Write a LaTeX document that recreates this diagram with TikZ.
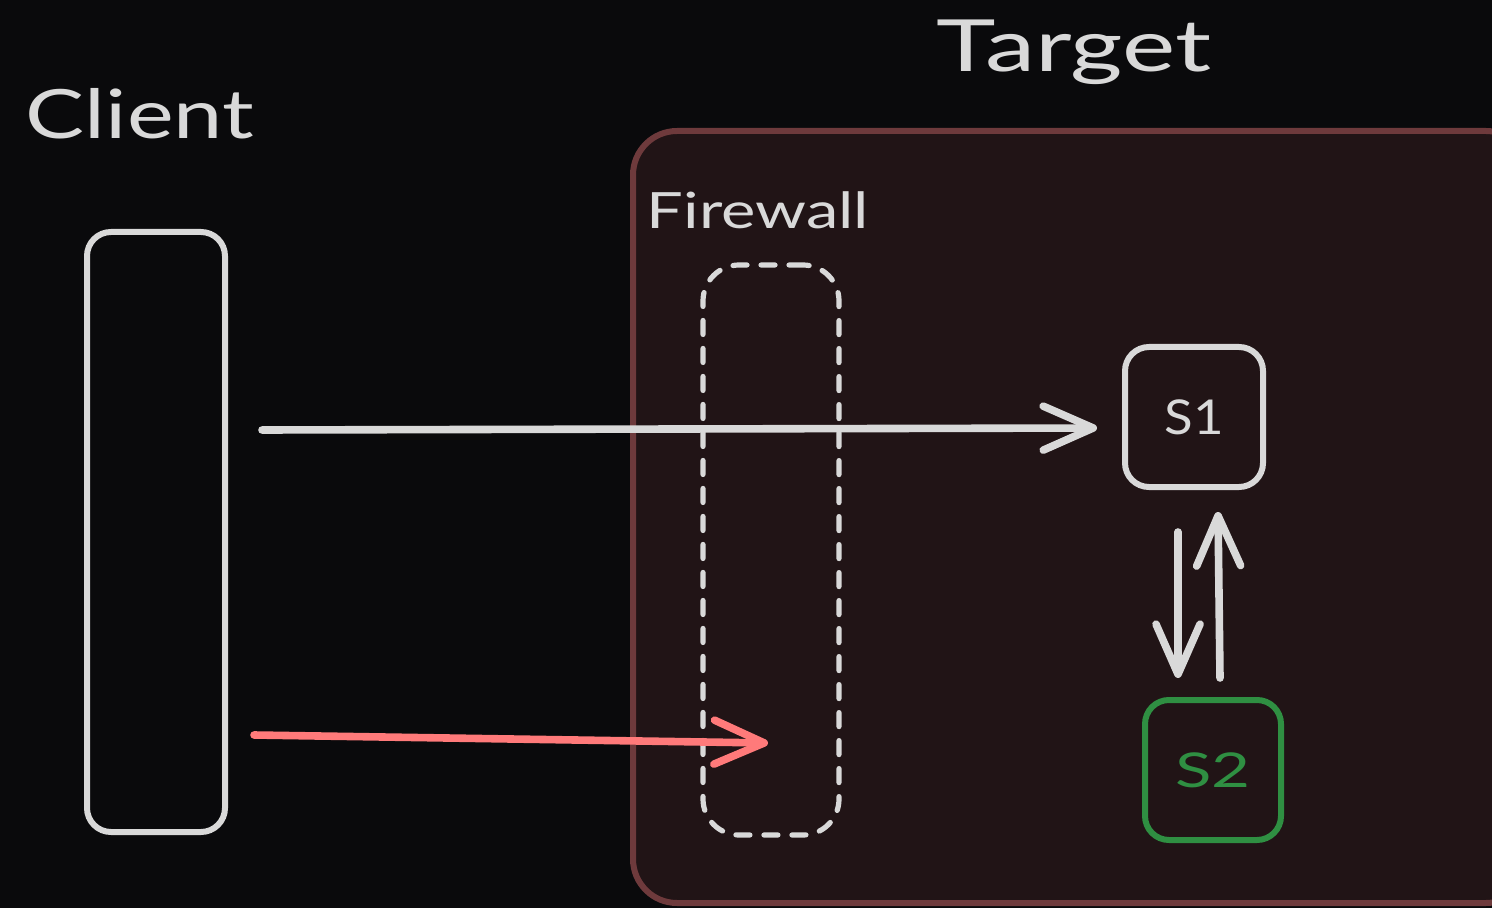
\documentclass[tikz,border=0pt]{standalone}
\usepackage{fontspec}
\usepackage{graphicx}
\setmainfont{Lato}
\usetikzlibrary{arrows.meta}
\definecolor{bg}{HTML}{0A0A0C}
\definecolor{zonefill}{HTML}{211416}
\definecolor{zoneline}{HTML}{6E3A3C}
\definecolor{ink}{HTML}{D9D9D9}
\definecolor{okgreen}{HTML}{2F8F42}
\definecolor{alert}{HTML}{FF7A7A}
% wide lettering, like a marker hand
\newcommand{\wide}[2][1.35]{\scalebox{#1}[1]{#2}}
\tikzset{
  sketchbox/.style={draw=ink, line width=3pt, rounded corners=12pt, fill=none},
  fwbox/.style={draw=ink, line width=2.6pt, rounded corners=18pt, dash pattern=on 7pt off 7pt, line cap=round},
  label/.style={text=ink, inner sep=0pt},
  flow/.style={draw=ink, line width=3.8pt, line cap=round,
    -{Straight Barb[length=25pt,width=22pt,round]}},
  badflow/.style={flow, draw=alert},
}
\begin{document}
\begin{tikzpicture}[x=0.5pt,y=-0.5pt]
  \fill[bg] (0,0) rectangle (1492,908);
  \useasboundingbox (0,0) rectangle (1492,908);

  % target network zone
  \draw[draw=zoneline, fill=zonefill, line width=3pt, rounded corners=22pt]
    (633,131) rectangle (1530,903);

  % titles
  \node[label, font=\fontsize{36}{40}\selectfont] (ttarget) at (1074,52) {\wide[1.4]{Target}};
  \node[label, font=\fontsize{34}{38}\selectfont] (tclient) at (140,114) {\wide[1.3]{Client}};
  \node[label, font=\fontsize{25}{28}\selectfont] (tfw) at (758,210) {\wide[1.3]{Firewall}};

  % client column
  \node[sketchbox, minimum width=69pt, minimum height=300pt] (client) at (156,532) {};

  % firewall column
  \node[fwbox, minimum width=68pt, minimum height=285pt] (fw) at (771,550) {};

  % servers
  \node[sketchbox, minimum width=69pt, minimum height=70pt, text=ink,
        font=\fontsize{24}{28}\selectfont] (s1) at (1194,417) {\wide[1.1]{S1}};
  \node[sketchbox, draw=okgreen, minimum width=68pt, minimum height=70pt, text=okgreen,
        font=\fontsize{24}{28}\selectfont] (s2) at (1213,770) {\wide[1.4]{S2}};

  % connection anchors
  \coordinate (c1) at (262,430);
  \coordinate (c2) at (254,735);
  \coordinate (blocked) at (768,743);
  \coordinate (s1in) at (1097,428);
  \coordinate (dtop) at (1178,532);
  \coordinate (dbot) at (1178,678);
  \coordinate (ubot) at (1220,678);
  \coordinate (utop) at (1218,512);

  \draw[flow] (c1) -- (s1in);
  \draw[badflow] (c2) -- (blocked);
  \draw[flow] (dtop) -- (dbot);
  \draw[flow] (ubot) -- (utop);
\end{tikzpicture}
\end{document}
